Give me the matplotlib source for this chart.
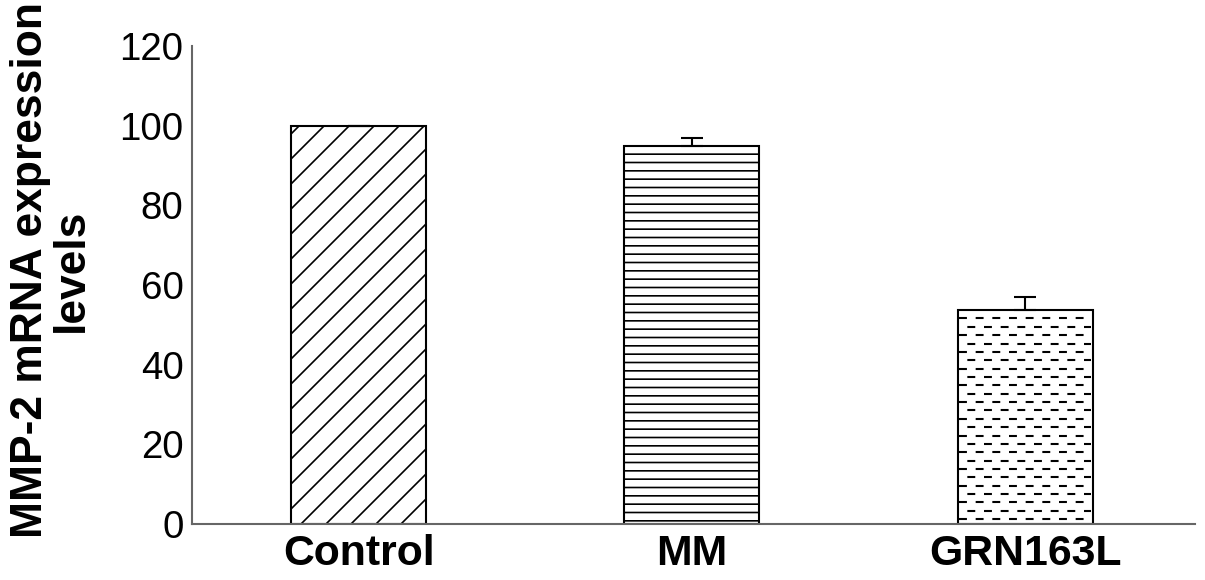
import numpy as np
import matplotlib
matplotlib.use("Agg")
from matplotlib import pyplot as plt

groups = ["Control", "MM", "GRN163L"]
levels = [100, 95, 53.7]
errors = [0, 1.8, 3.3]
hatches = ["//", "---", None]

plt.rcParams["font.family"] = ["Liberation Sans", "DejaVu Sans"]
plt.rcParams["hatch.linewidth"] = 0.8
plt.rcParams["hatch.color"] = "black"
plt.rcParams["lines.scale_dashes"] = False

dpi = 150
fig = plt.figure(figsize=(1205 / dpi, 580 / dpi), dpi=dpi)
ax = fig.add_axes([0.1593, 0.0966, 0.8324, 0.8241])

x = np.arange(len(groups))
width = 0.405
bars = ax.bar(x, levels, width, color="white", edgecolor="black", linewidth=1.0, zorder=2)
for bar, h in zip(bars, hatches):
    if h:
        bar.set_hatch(h)

# dashed fill for the last bar
step = 2.1
k = 1
gx = x[2]
while levels[2] - step * k > 0.5:
    off = 0 if k % 2 else 4
    ax.hlines(levels[2] - step * k, gx - width / 2 + 0.005, gx + width / 2 - 0.005,
              colors="black", linewidth=1.0, linestyles=(off, (3.8, 4.2)), zorder=3)
    k += 1

ax.errorbar(x, levels, yerr=[[0, 0, 0], errors], fmt="none", ecolor="black",
            elinewidth=1.0, capsize=5.5, capthick=1.0, zorder=4)

ax.set_xlim(-0.5, 2.51)
ax.set_ylim(0, 120)
ax.set_yticks(np.arange(0, 121, 20))
ax.set_xticks(x)
ax.set_xticklabels(groups, fontsize=20.5, fontweight="bold")
ax.tick_params(axis="y", length=0, pad=4, labelsize=18.5)
ax.tick_params(axis="x", length=0, pad=5)

for s in ["top", "right"]:
    ax.spines[s].set_visible(False)
for s in ["left", "bottom"]:
    ax.spines[s].set_color("#666666")
    ax.spines[s].set_linewidth(1.0)

ax.set_ylabel("MMP-2 mRNA expression\nlevels", fontsize=21.3, fontweight="bold",
              linespacing=1.0)
ax.yaxis.label.set_va("center")
ax.yaxis.set_label_coords(-0.1406, 0.531)

plt.savefig("out.png", dpi=dpi)
